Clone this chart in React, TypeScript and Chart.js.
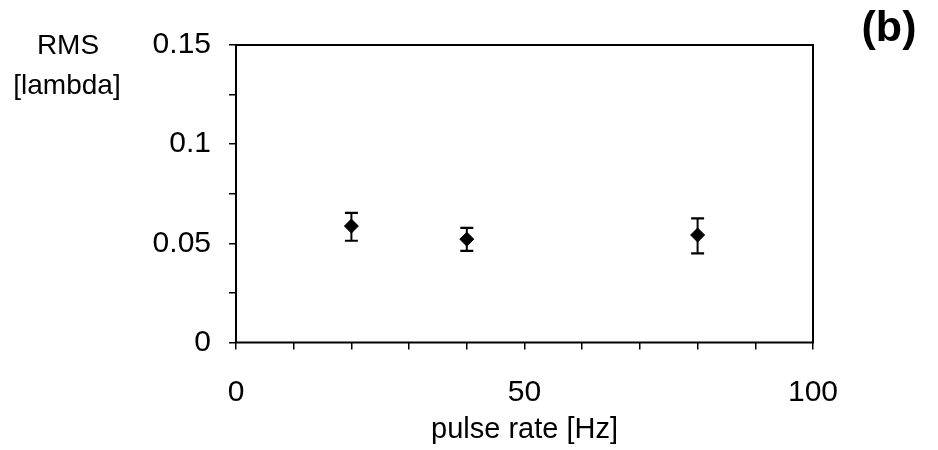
import React, { useEffect, useRef } from "react";
import { Chart, registerables } from "chart.js";

Chart.register(...registerables);

const pulseRates = [20, 40, 80];
const rmsMean = [0.0587, 0.0521, 0.0542];
const rmsHigh = [0.0654, 0.0578, 0.0626];
const rmsLow = [0.0513, 0.0462, 0.0449];

const xTitle = "pulse rate [Hz]";
const yTitleLines = ["RMS", "[lambda]"];
const panelLabel = "(b)";

const FONT = "Arial, 'Liberation Sans', Helvetica, sans-serif";

const framePlugin = {
  id: "frame",
  afterDraw(chart: any) {
    const { ctx, chartArea } = chart;
    ctx.save();
    ctx.strokeStyle = "#000";
    ctx.lineWidth = 2;
    ctx.strokeRect(
      chartArea.left,
      chartArea.top,
      chartArea.right - chartArea.left,
      chartArea.bottom - chartArea.top
    );
    ctx.restore();
  },
};

export default function App() {
  const ref = useRef<HTMLCanvasElement | null>(null);

  useEffect(() => {
    if (!ref.current) return;

    const barData: any[] = [];
    const capData: any[] = [];
    pulseRates.forEach((x, i) => {
      barData.push({ x, y: rmsLow[i] });
      barData.push({ x, y: rmsHigh[i] });
      barData.push({ x, y: null });
      capData.push({ x, y: rmsLow[i] });
      capData.push({ x, y: rmsHigh[i] });
    });

    const chart = new Chart(ref.current, {
      type: "scatter",
      data: {
        datasets: [
          {
            label: "err",
            data: barData,
            showLine: true,
            spanGaps: false,
            borderColor: "#000",
            borderWidth: 2,
            pointRadius: 0,
          } as any,
          {
            label: "caps",
            data: capData,
            pointStyle: "line",
            pointRadius: 6.5,
            borderColor: "#000",
            borderWidth: 2.2,
          } as any,
          {
            label: "RMS",
            data: pulseRates.map((x, i) => ({ x, y: rmsMean[i] })),
            pointStyle: "rectRot",
            pointRadius: 7,
            backgroundColor: "#000",
            borderColor: "#000",
            borderWidth: 1,
          } as any,
        ],
      },
      options: {
        animation: false,
        responsive: false,
        layout: { padding: { left: 0, top: 45, right: 125, bottom: 0 } },
        plugins: {
          legend: { display: false },
          tooltip: { enabled: false },
        },
        scales: {
          x: {
            type: "linear",
            min: 0,
            max: 100,
            afterFit(scale: any) {
              scale.height = 107.5;
            },
            ticks: {
              stepSize: 10,
              autoSkip: false,
              maxRotation: 0,
              padding: 25,
              color: "#000",
              font: { family: FONT, size: 30 },
              callback: (v: any) => (Math.round(v) % 50 === 0 ? String(Math.round(v)) : ""),
            },
            grid: {
              drawOnChartArea: false,
              drawTicks: true,
              tickLength: 7,
              color: "#000",
              lineWidth: 1.5,
            },
            border: { display: false },
            title: {
              display: true,
              text: xTitle,
              color: "#000",
              font: { family: FONT, size: 29 },
              padding: { top: 0, bottom: 3 },
            },
          },
          y: {
            type: "linear",
            min: 0,
            max: 0.15,
            afterFit(scale: any) {
              scale.width = 236;
            },
            ticks: {
              stepSize: 0.025,
              autoSkip: false,
              padding: 18,
              color: "#000",
              font: { family: FONT, size: 30 },
              callback: (v: any) => {
                const k = Math.round(v * 1000);
                return k % 50 === 0 ? String(k / 1000) : "";
              },
            },
            grid: {
              drawOnChartArea: false,
              drawTicks: true,
              tickLength: 7,
              color: "#000",
              lineWidth: 1.5,
            },
            border: { display: false },
          },
        },
      },
      plugins: [framePlugin],
    } as any);

    return () => chart.destroy();
  }, []);

  const textStyle: React.CSSProperties = {
    position: "absolute",
    fontFamily: FONT,
    color: "#000",
    lineHeight: 1,
    whiteSpace: "nowrap",
  };

  return (
    <div
      style={{
        position: "absolute",
        left: 0,
        top: 0,
        width: 938,
        height: 450,
        background: "#fff",
        overflow: "hidden",
      }}
    >
      <canvas ref={ref} width={938} height={450} style={{ display: "block" }} />
      <div style={{ ...textStyle, left: 0, width: 136, top: 31, fontSize: 28, textAlign: "center" }}>
        {yTitleLines[0]}
      </div>
      <div style={{ ...textStyle, left: 0, width: 134, top: 71, fontSize: 28, textAlign: "center" }}>
        {yTitleLines[1]}
      </div>
      <div
        style={{
          ...textStyle,
          left: 840,
          width: 98,
          top: 5,
          fontSize: 43,
          fontWeight: "bold",
          textAlign: "center",
        }}
      >
        {panelLabel}
      </div>
    </div>
  );
}
